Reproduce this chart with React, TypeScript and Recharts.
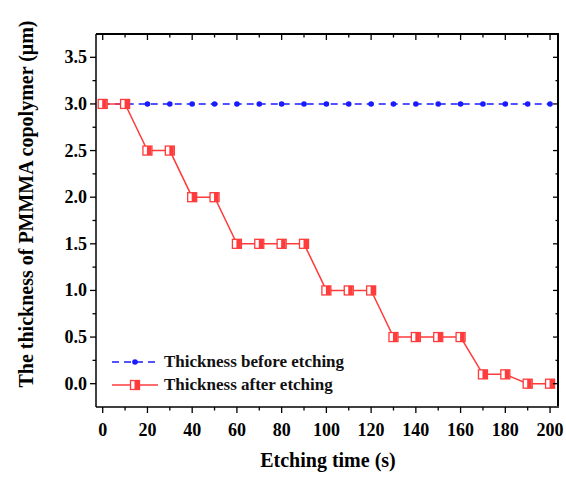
import React from 'react';
import { LineChart, Line, XAxis, YAxis, Label } from 'recharts';

const times = [0, 10, 20, 30, 40, 50, 60, 70, 80, 90, 100, 110, 120, 130, 140, 150, 160, 170, 180, 190, 200];
const beforeValues = [3, 3, 3, 3, 3, 3, 3, 3, 3, 3, 3, 3, 3, 3, 3, 3, 3, 3, 3, 3, 3];
const afterValues = [3, 3, 2.5, 2.5, 2, 2, 1.5, 1.5, 1.5, 1.5, 1, 1, 1, 0.5, 0.5, 0.5, 0.5, 0.1, 0.1, 0, 0];
const xTicks = [0, 10, 20, 30, 40, 50, 60, 70, 80, 90, 100, 110, 120, 130, 140, 150, 160, 170, 180, 190, 200];
const yTicks = [0, 0.25, 0.5, 0.75, 1, 1.25, 1.5, 1.75, 2, 2.25, 2.5, 2.75, 3, 3.25, 3.5];
const legendLabels = ['Thickness before etching', 'Thickness after etching'];
const xDomain = [-3, 204];
const yDomain = [-0.25, 3.75];

const data = times.map((t, i) => ({ t, before: beforeValues[i], after: afterValues[i] }));

const CHART_W = 566;
const CHART_H = 477;
const M_TOP = 34;
const M_RIGHT = 7;
const Y_AXIS_W = 96;
const X_AXIS_H = 70;
const PLOT_W = CHART_W - Y_AXIS_W - M_RIGHT;
const PLOT_H = CHART_H - M_TOP - X_AXIS_H;

const FONT = '"Liberation Serif", "Times New Roman", serif';
const RED = '#ff3b3b';
const BLUE = '#1a1aff';
const MAJ = 6;
const MIN = 3.5;

const isMajorX = (v: number) => v % 20 === 0;
const isMajorY = (v: number) => Math.abs(v * 2 - Math.round(v * 2)) < 1e-6;

const BottomTick = (p: any) => {
  const { x, y, payload } = p;
  const major = isMajorX(payload.value);
  const len = major ? MAJ : MIN;
  const yTop = y - PLOT_H;
  return (
    <g>
      <line x1={x} x2={x} y1={y} y2={y + len} stroke="#000" strokeWidth={1.3} />
      <line x1={x} x2={x} y1={yTop} y2={yTop + len} stroke="#000" strokeWidth={1.3} />
      {major && (
        <text x={x} y={y + 29} textAnchor="middle" fontFamily={FONT} fontWeight="bold" fontSize={18} fill="#000">
          {payload.value}
        </text>
      )}
    </g>
  );
};

const LeftTick = (p: any) => {
  const { x, y, payload } = p;
  const major = isMajorY(payload.value);
  const len = major ? MAJ : MIN;
  const xRight = x + PLOT_W;
  return (
    <g>
      <line x1={x - len} x2={x} y1={y} y2={y} stroke="#000" strokeWidth={1.3} />
      <line x1={xRight - len} x2={xRight} y1={y} y2={y} stroke="#000" strokeWidth={1.3} />
      {major && (
        <text x={x - 9} y={y + 6} textAnchor="end" fontFamily={FONT} fontWeight="bold" fontSize={18} fill="#000">
          {payload.value.toFixed(1)}
        </text>
      )}
    </g>
  );
};

const SquareDot = (p: any) => {
  const { cx, cy } = p;
  if (cx == null || cy == null) return null;
  return (
    <g>
      <rect x={cx - 4.5} y={cy - 4.5} width={9} height={9} fill="#fff" stroke={RED} strokeWidth={1.3} />
      <rect x={cx - 0.5} y={cy - 4.5} width={4.5} height={9} fill={RED} />
    </g>
  );
};

const CircleDot = (p: any) => {
  const { cx, cy } = p;
  if (cx == null || cy == null) return null;
  return <circle cx={cx} cy={cy} r={2.8} fill={BLUE} />;
};

const LegendBox = () => (
  <div
    style={{
      position: 'absolute',
      left: 112,
      top: 350,
      fontFamily: FONT,
      fontWeight: 'bold',
      fontSize: 17,
      color: '#111',
      lineHeight: '23px',
      whiteSpace: 'nowrap',
    }}
  >
    <div style={{ display: 'flex', alignItems: 'center' }}>
      <svg width={46} height={12} style={{ marginRight: 6 }}>
        <line x1={0} x2={46} y1={6} y2={6} stroke={BLUE} strokeWidth={1.5} strokeDasharray="7 5" />
        <circle cx={23} cy={6} r={2.8} fill={BLUE} />
      </svg>
      <span>{legendLabels[0]}</span>
    </div>
    <div style={{ display: 'flex', alignItems: 'center' }}>
      <svg width={46} height={12} style={{ marginRight: 6 }}>
        <line x1={0} x2={46} y1={6} y2={6} stroke={RED} strokeWidth={1.5} />
        <rect x={18.5} y={1.5} width={9} height={9} fill="#fff" stroke={RED} strokeWidth={1.3} />
        <rect x={22.5} y={1.5} width={4.5} height={9} fill={RED} />
      </svg>
      <span>{legendLabels[1]}</span>
    </div>
  </div>
);

export default function App() {
  return (
    <div style={{ position: 'fixed', left: 0, top: 0, width: CHART_W, height: CHART_H, background: '#fff' }}>
      <LineChart width={CHART_W} height={CHART_H} data={data} margin={{ top: M_TOP, right: M_RIGHT, bottom: 0, left: 0 }}>
        <XAxis
          dataKey="t"
          type="number"
          domain={xDomain}
          ticks={xTicks}
          interval={0}
          orientation="bottom"
          height={X_AXIS_H}
          tickSize={0}
          tickMargin={0}
          tickLine={false}
          axisLine={{ stroke: '#000', strokeWidth: 1.5 }}
          tick={BottomTick}
        >
          <Label
            content={() => (
              <text x={328} y={467} textAnchor="middle" fontFamily={FONT} fontWeight="bold" fontSize={20} fill="#000">
                Etching time (s)
              </text>
            )}
          />
        </XAxis>
        <YAxis
          type="number"
          domain={yDomain}
          ticks={yTicks}
          interval={0}
          orientation="left"
          width={Y_AXIS_W}
          tickSize={0}
          tickMargin={0}
          tickLine={false}
          axisLine={{ stroke: '#000', strokeWidth: 1.5 }}
          tick={LeftTick}
        >
          <Label
            content={() => (
              <text
                x={26}
                y={204}
                transform="rotate(-90, 26, 204)"
                textAnchor="middle"
                dominantBaseline="central"
                fontFamily={FONT}
                fontWeight="bold"
                fontSize={20}
                fill="#000"
              >
                The thickness of PMMMA copolymer (μm)
              </text>
            )}
          />
        </YAxis>
        <Line
          dataKey="before"
          stroke={BLUE}
          strokeWidth={1.5}
          strokeDasharray="7 5"
          dot={CircleDot}
          activeDot={false}
          isAnimationActive={false}
        />
        <Line
          dataKey="after"
          stroke={RED}
          strokeWidth={1.5}
          dot={SquareDot}
          activeDot={false}
          isAnimationActive={false}
        />
      </LineChart>
      <div
        style={{
          position: 'absolute',
          left: Y_AXIS_W,
          top: M_TOP - 1,
          width: PLOT_W,
          height: PLOT_H,
          borderTop: '2px solid #000',
          borderRight: '2px solid #000',
          boxSizing: 'border-box',
          pointerEvents: 'none',
        }}
      />
      <LegendBox />
    </div>
  );
}
